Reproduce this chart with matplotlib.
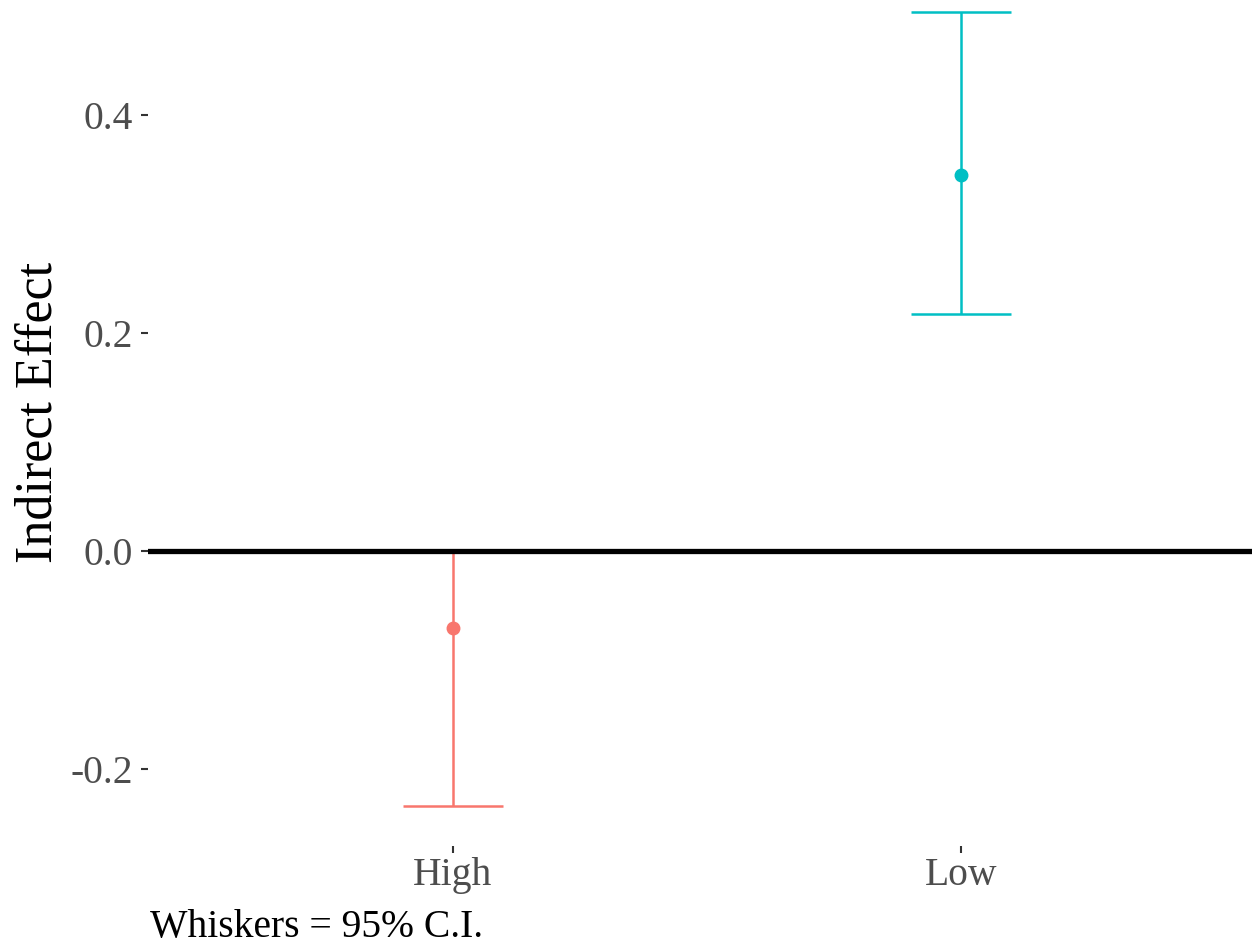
import matplotlib
matplotlib.use("Agg")
import matplotlib.pyplot as plt

groups = ["High", "Low"]
estimate = [-0.0706, 0.345]
ci_lower = [-0.234, 0.2174]
ci_upper = [0.0, 0.4945]
colors = ["#F8766D", "#00BFC4"]
y_ticks = [-0.2, 0.0, 0.2, 0.4]

plt.rcParams["font.family"] = ["Liberation Serif", "DejaVu Serif"]

fig = plt.figure(figsize=(12.52, 9.47), dpi=100)
ax = fig.add_axes([148 / 1252, 1 - 846 / 947, 1 - 148 / 1252, 846 / 947])

xs = [1, 2]
# zero reference line sits on top of the whiskers, as in ggplot's geom_hline
ax.axhline(0, color="black", lw=3.8, zorder=3)
for x, est, lo, hi, c in zip(xs, estimate, ci_lower, ci_upper, colors):
    ax.errorbar(x, est, yerr=[[est - lo], [hi - est]], fmt="o", color=c,
                ms=9, lw=1.8, capsize=36, capthick=1.8, zorder=2)

ax.set_xlim(0.4, 2.572)
ax.set_ylim(-0.2706, 0.5055)
ax.set_xticks(xs)
ax.set_xticklabels(groups)
ax.set_yticks(y_ticks)
ax.set_yticklabels([f"{v:.1f}" for v in y_ticks])
ax.tick_params(axis="both", colors="#333333", labelcolor="#4D4D4D",
               labelsize=28.5, length=5, width=1.5)
ax.tick_params(axis="y", pad=6)
ax.tick_params(axis="x", pad=3)
for s in ax.spines.values():
    s.set_visible(False)
ax.set_ylabel("Indirect Effect", fontsize=37.5)
ax.yaxis.set_label_coords(-0.077, 0.513)

fig.text(150 / 1252, 1 - 937 / 947, "Whiskers = 95% C.I.", fontsize=28.5,
         ha="left", va="baseline")

fig.savefig("out.png", dpi=100)
